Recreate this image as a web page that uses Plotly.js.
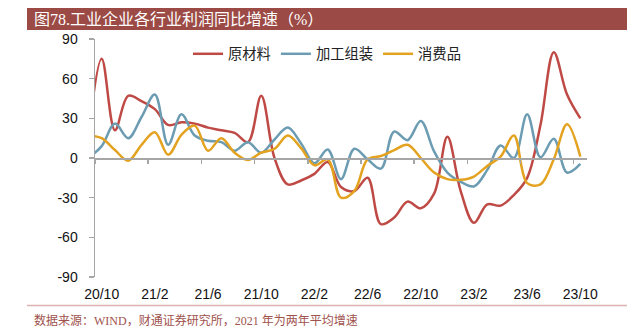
<!DOCTYPE html>
<html><head><meta charset="utf-8">
<script src="https://cdn.plot.ly/plotly-3.0.1.min.js"></script>
<style>html,body{margin:0;padding:0;background:#fff;}</style>
</head><body><div id="chart" style="width:639px;height:329px;"></div>
<script>
const months = ['20/9','20/10','20/11','20/12','21/1','21/2','21/3','21/4','21/5','21/6','21/7','21/8','21/9','21/10','21/11','21/12',
  '22/1','22/2','22/3','22/4','22/5','22/6','22/7','22/8','22/9','22/10','22/11','22/12',
  '23/1','23/2','23/3','23/4','23/5','23/6','23/7','23/8','23/9','23/10'];
const rawMaterials = [15,75,21,47,43,37,25,27,26,23,21,19,12,47,0,-20,-17,-12,-3,-22,-25,-15,-50,-45,-33,-38,-27,16,-25,-49,-35,-36,-28,-15,25,80,48,30];
const assembly =     [0,9,26,15,31,48,10,33,17,13,12,5.5,12,4,14,23,11,-4,6.5,-16,7,-1,-8,20,13.5,28,5,-11,-18,-21.5,-9,9.5,0,33,0.5,14.5,-11,-4.5];
const consumer =     [17,15,6,-2,10,19.5,2.5,17.5,24.5,5.5,15,4,-1.5,4,7,17,7.5,-5.5,-1,-30,-25,-1,1.5,6,10,0,-11,-16,-16.5,-14,-6,1,17,-19,-20,-1,25.5,1];
const tickLabels = ['20/10','21/2','21/6','21/10','22/2','22/6','22/10','23/2','23/6','23/10'];
const yTicks = [-90,-60,-30,0,30,60,90];
const seriesNames = ['原材料','加工组装','消费品'];
const colors = ['#BF4A45','#6C9CB2','#E3A320'];
const titleText = '图78.工业企业各行业利润同比增速（%）';
const sourceText = '数据来源：WIND，财通证券研究所，2021 年为两年平均增速';

const xIdx = months.map((m,i)=>i-1);
const labelPos = tickLabels.map(l=>months.indexOf(l)-1);
const boundaryPos = labelPos.map(p=>p-0.5);
const allSeries = [rawMaterials, assembly, consumer];

const traces = allSeries.map((ys,k)=>({
  x: xIdx, y: ys, type:'scatter', mode:'lines', name: seriesNames[k],
  line:{color:colors[k], width:2.5, shape:'spline', smoothing:1},
  hoverinfo:'skip'
}));
traces.push({x:[], y:[], xaxis:'x2', type:'scatter', mode:'lines', showlegend:false, hoverinfo:'skip'});

const axisGray = '#A6A6A6';
const W = 639, H = 329, ml = 95, mr = 52, mt = 39, mb = 52;
const pw = W-ml-mr, ph = H-mt-mb;
const px = v => (v-ml)/pw;
const py = v => (H-mb-v)/ph;

const layout = {
  width: W, height: H,
  margin:{l:ml, r:mr, t:mt, b:mb, pad:0},
  paper_bgcolor:'#fff', plot_bgcolor:'#fff',
  showlegend:true,
  legend:{orientation:'h', x:px(188), xanchor:'left', y:py(54), yanchor:'middle',
    font:{family:'Noto Sans CJK SC', size:14.3, color:'#222'}, bgcolor:'rgba(0,0,0,0)', itemwidth:30},
  xaxis:{range:[-0.5,36.5], tickvals:labelPos, ticktext:tickLabels, ticks:'', showline:false,
    showgrid:false, zeroline:false, tickfont:{family:'Liberation Sans, Arial', size:14, color:'#111'},
    ticklabelstandoff:7},
  xaxis2:{overlaying:'x', matches:'x', anchor:'free', position:0.5, showline:true, linecolor:axisGray, linewidth:1.5,
    ticks:'outside', ticklen:4, tickwidth:1.5, tickcolor:axisGray, tickvals:boundaryPos, showticklabels:false,
    showgrid:false, zeroline:false},
  yaxis:{range:[-90,90], tickvals:yTicks, ticktext:yTicks.map(String), showline:true, linecolor:axisGray, linewidth:1.5,
    ticks:'outside', ticklen:5, tickwidth:1.5, tickcolor:axisGray, showgrid:false, zeroline:false,
    tickfont:{family:'Liberation Sans, Arial', size:14, color:'#111'}, ticklabelstandoff:8},
  shapes:[
    {type:'rect', xref:'paper', yref:'paper', x0:px(27), x1:px(627), y0:py(30), y1:py(8), fillcolor:'#9C4A45', line:{width:0}, layer:'below'},
    {type:'line', xref:'paper', yref:'paper', x0:px(27), x1:px(627), y0:py(305.5), y1:py(305.5), line:{color:'#DDB3B1', width:1.5}}
  ],
  annotations:[
    {text:titleText, xref:'paper', yref:'paper', x:px(32), y:py(19.5), xanchor:'left', yanchor:'middle', showarrow:false,
      font:{family:'Liberation Serif, Noto Sans CJK SC', size:16, color:'#fff'}},
    {text:sourceText, xref:'paper', yref:'paper', x:px(32), y:py(320), xanchor:'left', yanchor:'middle', showarrow:false,
      font:{family:'Liberation Serif, Noto Sans CJK SC', size:12, color:'#A0524D'}}
  ]
};
Plotly.newPlot('chart', traces, layout, {staticPlot:true, displayModeBar:false});
</script></body></html>
